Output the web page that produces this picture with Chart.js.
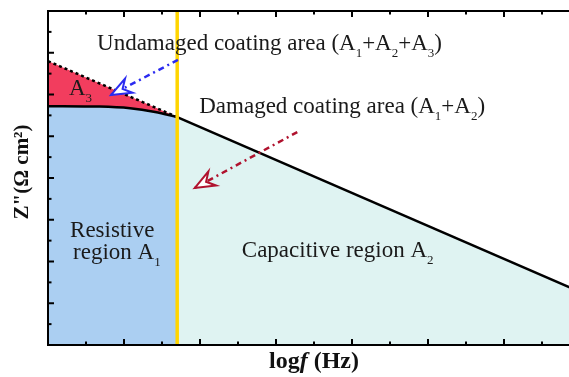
<!DOCTYPE html>
<html>
<head>
<meta charset="utf-8">
<script src="https://cdn.jsdelivr.net/npm/chart.js@4/dist/chart.umd.min.js"></script>
<style>
  html, body { margin: 0; padding: 0; background: #fff; overflow: hidden; }
  #wrap { width: 590px; height: 377px; }
</style>
</head>
<body>
<div id="wrap"><canvas id="myChart" width="590" height="377"></canvas></div>
<script>
// impedance curve (log f vs Z'')
var curveX = [0, 0.68, 1.08, 1.41, 1.70];
var curveY = [5.72, 5.71, 5.67, 5.58, 5.46];
var slopeX = [1.70, 7.0];
var slopeY = [5.46, 1.27];
// undamaged coating line (dotted)
var undamagedX = [0, 1.70];
var undamagedY = [6.80, 5.46];
// boundary between resistive and capacitive regions
var boundaryX = [1.70, 1.70];
var boundaryY = [0, 8];
// arrows: tail -> tip
var blueArrowX = [1.71, 0.83];
var blueArrowY = [6.83, 5.99];
var redArrowX = [3.28, 1.93];
var redArrowY = [5.10, 3.76];

var annotations = [
  { text: 'Undamaged coating area (A_1+A_2+A_3)', x: 0.645, y: 7.07 },
  { text: 'Damaged coating area (A_1+A_2)', x: 1.99, y: 5.56 },
  { text: 'A_3', x: 0.276, y: 5.99 },
  { text: 'Resistive', x: 0.29, y: 2.59 },
  { text: 'region A_1', x: 0.33, y: 2.06 },
  { text: 'Capacitive region A_2', x: 2.55, y: 2.11 }
];

var SERIF = '"Liberation Serif", "DejaVu Serif", serif';

function pts(xs, ys) {
  return xs.map(function(x, i) { return { x: x, y: ys[i] }; });
}

// text with A_1 style subscripts
function drawRich(ctx, text, x, y, size) {
  var parts = text.split(/_(.)/);
  ctx.textAlign = 'left';
  ctx.textBaseline = 'alphabetic';
  for (var i = 0; i < parts.length; i++) {
    if (i % 2 === 1) {
      ctx.font = Math.round(size * 0.55) + 'px ' + SERIF;
      ctx.fillText(parts[i], x, y + size * 0.32);
      x += ctx.measureText(parts[i]).width;
    } else {
      ctx.font = size + 'px ' + SERIF;
      ctx.fillText(parts[i], x, y);
      x += ctx.measureText(parts[i]).width;
    }
  }
}

var framePlugin = {
  id: 'frame',
  afterDatasetsDraw: function(chart) {
    var ctx = chart.ctx, a = chart.chartArea;
    var xs = chart.scales.x, ys = chart.scales.y;
    ctx.save();

    // arrow heads
    chart.data.datasets.forEach(function(ds, i) {
      if (!ds.arrowHead) return;
      var meta = chart.getDatasetMeta(i);
      var p0 = meta.data[0], p1 = meta.data[meta.data.length - 1];
      var dx = p1.x - p0.x, dy = p1.y - p0.y;
      var len = Math.sqrt(dx * dx + dy * dy);
      var ux = dx / len, uy = dy / len, nx = -uy, ny = ux;
      var L = 20, W = 8, N = 13;
      ctx.beginPath();
      ctx.moveTo(p1.x, p1.y);
      ctx.lineTo(p1.x - L * ux + W * nx, p1.y - L * uy + W * ny);
      ctx.lineTo(p1.x - N * ux, p1.y - N * uy);
      ctx.lineTo(p1.x - L * ux - W * nx, p1.y - L * uy - W * ny);
      ctx.closePath();
      ctx.fillStyle = '#ffffff';
      ctx.fill();
      ctx.lineWidth = 2;
      ctx.setLineDash([]);
      ctx.strokeStyle = ds.borderColor;
      ctx.stroke();
    });

    // axis frame
    ctx.strokeStyle = '#000';
    ctx.lineWidth = 2;
    ctx.setLineDash([]);
    ctx.beginPath();
    ctx.moveTo(a.right + 20, a.top);
    ctx.lineTo(a.left, a.top);
    ctx.lineTo(a.left, a.bottom);
    ctx.lineTo(a.right + 20, a.bottom);
    ctx.stroke();

    // inward ticks
    ctx.lineWidth = 2;
    xs.ticks.forEach(function(t) {
      var px = xs.getPixelForValue(t.value);
      var l = Number.isInteger(t.value) ? 6 : 3.5;
      ctx.beginPath();
      ctx.moveTo(px, a.bottom); ctx.lineTo(px, a.bottom - l);
      ctx.moveTo(px, a.top); ctx.lineTo(px, a.top + l);
      ctx.stroke();
    });
    ys.ticks.forEach(function(t) {
      var py = ys.getPixelForValue(t.value);
      var l = Number.isInteger(t.value) ? 6 : 3.5;
      ctx.beginPath();
      ctx.moveTo(a.left, py); ctx.lineTo(a.left + l, py);
      ctx.stroke();
    });

    // text annotations
    ctx.fillStyle = '#1a1a1a';
    annotations.forEach(function(n) {
      drawRich(ctx, n.text, xs.getPixelForValue(n.x), ys.getPixelForValue(n.y), 23);
    });

    // axis titles
    ctx.fillStyle = '#111';
    ctx.textBaseline = 'middle';
    var cx = (a.left + a.right) / 2;
    var parts = [['log', 'bold '], ['f', 'italic bold '], [' (Hz)', 'bold ']];
    var w = 0;
    parts.forEach(function(p) { ctx.font = p[1] + '24px ' + SERIF; w += ctx.measureText(p[0]).width; });
    var x = cx - w / 2;
    parts.forEach(function(p) {
      ctx.font = p[1] + '24px ' + SERIF;
      ctx.textAlign = 'left';
      ctx.fillText(p[0], x, a.bottom + 17);
      x += ctx.measureText(p[0]).width;
    });

    ctx.translate(23, (a.top + a.bottom) / 2 - 6);
    ctx.rotate(-Math.PI / 2);
    ctx.textAlign = 'center';
    ctx.font = 'bold 21px ' + SERIF;
    ctx.fillText('Z"(\u03A9 cm\u00B2)', 0, 0);
    ctx.restore();
  }
};

new Chart(document.getElementById('myChart'), {
  type: 'scatter',
  data: {
    datasets: [
      {
        data: pts(undamagedX, undamagedY),
        showLine: true,
        borderColor: '#000',
        borderWidth: 2.5,
        borderDash: [3, 3],
        backgroundColor: '#f23d5e',
        fill: 1,
        pointRadius: 0,
        order: 4
      },
      {
        data: pts(curveX, curveY),
        showLine: true,
        borderColor: '#000',
        borderWidth: 2.5,
        backgroundColor: '#abcff2',
        fill: 'origin',
        cubicInterpolationMode: 'monotone',
        pointRadius: 0,
        order: 3
      },
      {
        data: pts(slopeX, slopeY),
        showLine: true,
        borderColor: '#000',
        borderWidth: 2.5,
        backgroundColor: '#dff3f2',
        fill: 'origin',
        pointRadius: 0,
        order: 3
      },
      {
        data: pts(boundaryX, boundaryY),
        showLine: true,
        borderColor: '#ffd500',
        borderWidth: 3.5,
        fill: false,
        pointRadius: 0,
        order: 2
      },
      {
        data: pts(blueArrowX, blueArrowY),
        showLine: true,
        borderColor: '#2b2bf0',
        borderWidth: 2.5,
        borderDash: [6, 4, 2, 4],
        fill: false,
        pointRadius: 0,
        arrowHead: true,
        order: 1
      },
      {
        data: pts(redArrowX, redArrowY),
        showLine: true,
        borderColor: '#b0122e',
        borderWidth: 2.5,
        borderDash: [6, 4, 2, 4],
        fill: false,
        pointRadius: 0,
        arrowHead: true,
        order: 1
      }
    ]
  },
  options: {
    responsive: false,
    devicePixelRatio: 1,
    animation: false,
    layout: { padding: { left: 48, top: 11, right: 10, bottom: 32 } },
    plugins: {
      legend: { display: false },
      tooltip: { enabled: false },
      filler: { drawTime: 'beforeDatasetsDraw' }
    },
    scales: {
      x: { type: 'linear', min: 0, max: 7, display: false, ticks: { stepSize: 0.5 } },
      y: { type: 'linear', min: 0, max: 8, display: false, ticks: { stepSize: 0.5 } }
    }
  },
  plugins: [framePlugin]
});
</script>
</body>
</html>
